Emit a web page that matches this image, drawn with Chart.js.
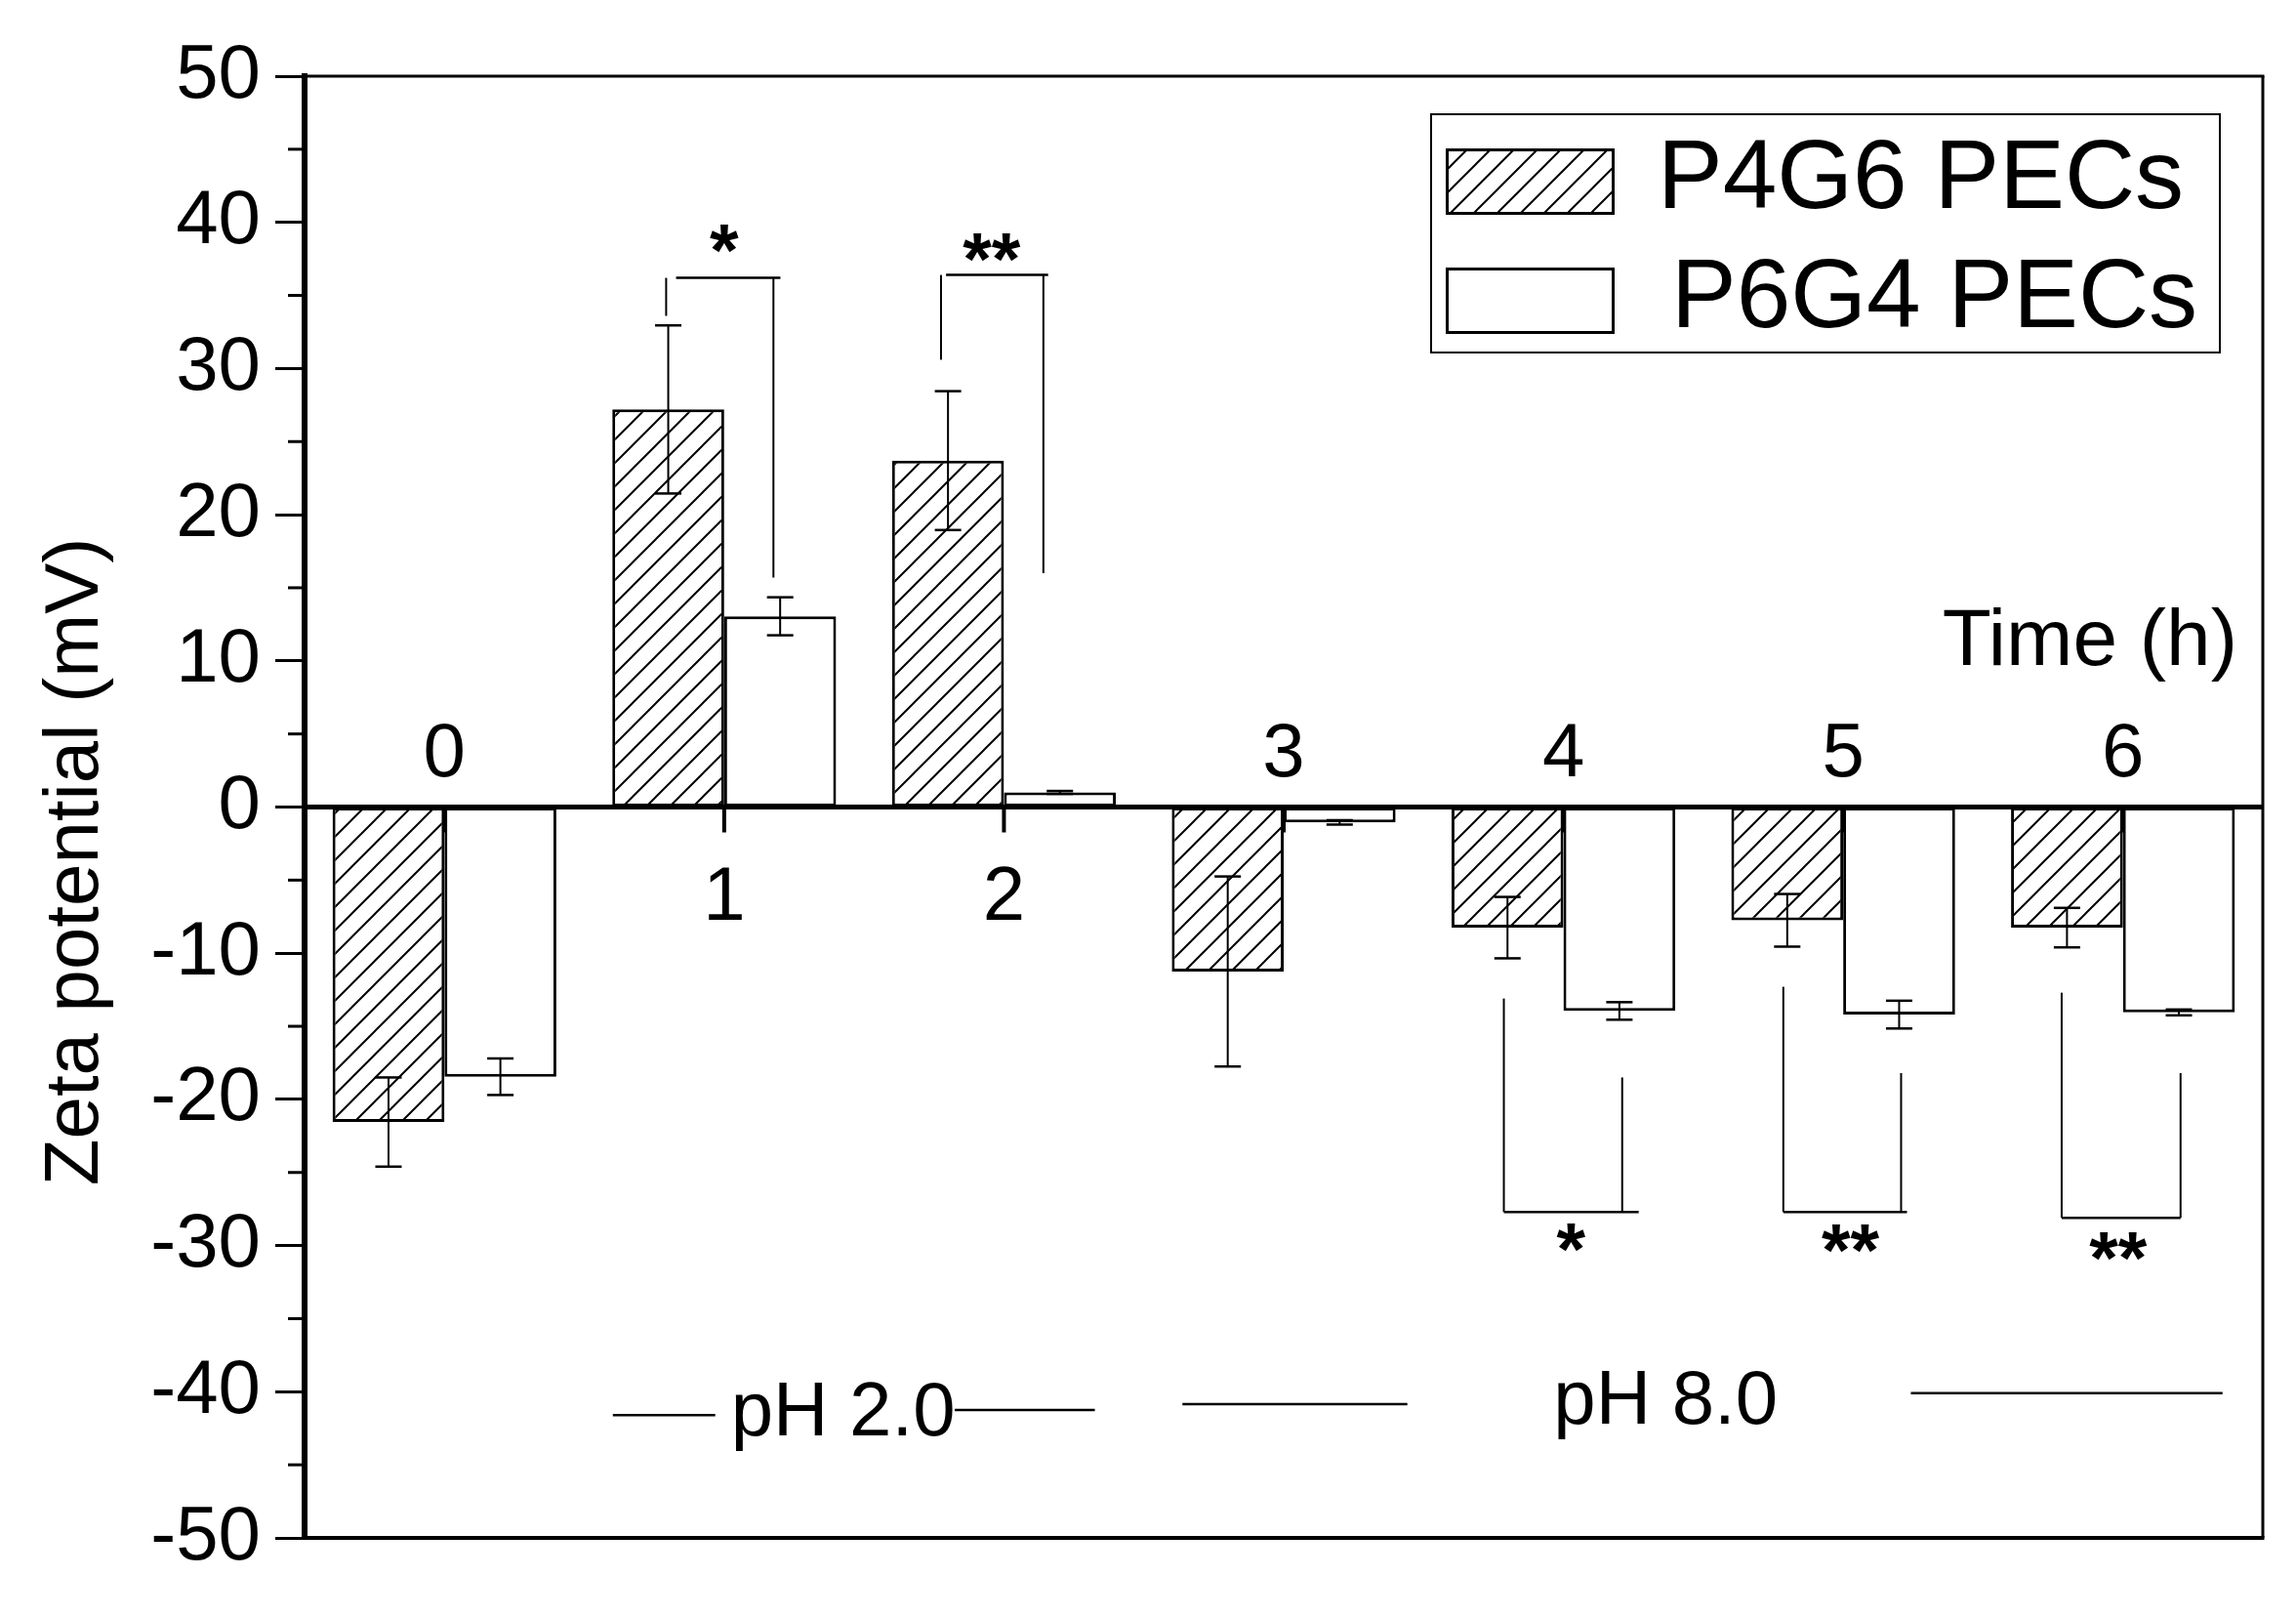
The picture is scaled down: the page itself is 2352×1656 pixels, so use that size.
<!DOCTYPE html>
<html><head><meta charset="utf-8">
<script src="https://cdn.jsdelivr.net/npm/chart.js@4/dist/chart.umd.min.js"></script>
<style>html,body{margin:0;padding:0;background:#fff;}canvas{display:block;}</style>
</head><body>
<canvas id="c" width="2352" height="1656"></canvas>
<script>
// ---------- data ----------
const categories = ['0', '1', '2', '3', '4', '5', '6'];
const seriesNames = ['P4G6 PECs', 'P6G4 PECs'];
const p4g6 = [-21.55, 27.2, 23.7, -11.25, -8.25, -7.75, -8.25];
const p4g6Err = [3.05, 5.75, 4.75, 6.5, 2.1, 1.8, 1.35];
const p6g4 = [-18.45, 13.05, 1.0, -1.05, -13.95, -14.2, -14.05];
const p6g4Err = [1.25, 1.3, 0.1, 0.15, 0.6, 0.95, 0.2];
const yMin = -50, yMax = 50, yStep = 10;
const xTitle = 'Time (h)';
const yTitle = 'Zeta potential (mV)';
// significance brackets (x in category units, y in mV)
const brackets = [
  { mark: '*',  leftX: 0.7925, leftEnd: 33.6,  hx1: 0.828, hx2: 1.201, barY: 36.2,  rightX: 1.176, rightEnd: 15.7,  markX: 1.0,   markY: 38.9 },
  { mark: '**', leftX: 1.775,  leftEnd: 30.6,  hx1: 1.793, hx2: 2.158, barY: 36.4,  rightX: 2.141, rightEnd: 16.0,  markX: 1.956, markY: 38.3 },
  { mark: '*',  leftX: 3.787,  leftEnd: -13.1, hx1: 3.787, hx2: 4.269, barY: -27.7, rightX: 4.210, rightEnd: -18.5, markX: 4.027, markY: -29.4 },
  { mark: '**', leftX: 4.786,  leftEnd: -12.3, hx1: 4.786, hx2: 5.228, barY: -27.7, rightX: 5.207, rightEnd: -18.2, markX: 5.026, markY: -29.5 },
  { mark: '**', leftX: 5.781,  leftEnd: -12.7, hx1: 5.781, hx2: 6.206, barY: -28.1, rightX: 6.206, rightEnd: -18.2, markX: 5.983, markY: -30.0 }
];
// pH segment lines [x1, x2, y] and labels
const phLines = [[0.602, 0.968, -41.6], [1.824, 2.325, -41.25], [2.638, 3.442, -40.85], [5.242, 6.356, -40.1]];
const phLabels = ['pH 2.0', 'pH 8.0'];
const phLabelX = [1.425, 4.365];
const phLabelY = [-43.0, -42.2];

// ---------- style ----------
const FONT = '"Liberation Sans", Arial, Helvetica, sans-serif';
Chart.defaults.font.family = FONT;
Chart.defaults.color = '#000';

const canvas = document.getElementById('c');
const mainCtx = canvas.getContext('2d');
function makeHatch() {
  const s = 24;
  const t = document.createElement('canvas');
  t.width = s; t.height = s;
  const g = t.getContext('2d');
  g.fillStyle = '#fff'; g.fillRect(0, 0, s, s);
  g.strokeStyle = '#000'; g.lineWidth = 2;
  g.beginPath();
  g.moveTo(-2, s + 2); g.lineTo(s + 2, -2);
  g.moveTo(-s / 2 - 2, s / 2 + 2); g.lineTo(s / 2 + 2, -s / 2 - 2);
  g.moveTo(s / 2 - 2, s * 1.5 + 2); g.lineTo(s * 1.5 + 2, s / 2 - 2);
  g.stroke();
  return mainCtx.createPattern(t, 'repeat');
}
const hatch = makeHatch();

function line(ctx, x1, y1, x2, y2, w) {
  ctx.save();
  ctx.strokeStyle = '#000'; ctx.lineWidth = w; ctx.lineCap = 'butt';
  ctx.beginPath(); ctx.moveTo(x1, y1); ctx.lineTo(x2, y2); ctx.stroke();
  ctx.restore();
}

const decorations = {
  id: 'decorations',
  afterDatasetsDraw(chart) {
    const ctx = chart.ctx, ys = chart.scales.y, xs = chart.scales.x, ca = chart.chartArea;
    // error bars
    chart.data.datasets.forEach((ds, di) => {
      const meta = chart.getDatasetMeta(di);
      meta.data.forEach((bar, i) => {
        const v = ds.data[i], e = ds.errors[i];
        const yt = ys.getPixelForValue(v + e), yb = ys.getPixelForValue(v - e);
        const x = bar.x;
        line(ctx, x, yt, x, yb, 2);
        line(ctx, x - 13.5, yt, x + 13.5, yt, 2.5);
        line(ctx, x - 13.5, yb, x + 13.5, yb, 2.5);
      });
    });
    // zero line
    const y0 = ys.getPixelForValue(0);
    line(ctx, ca.left, y0, ca.right, y0, 5);
    // x tick marks
    categories.forEach((c, i) => {
      const x = xs.getPixelForValue(i);
      line(ctx, x, y0, x, y0 + 26, 4);
    });
    // y minor ticks
    for (let v = yMin + yStep / 2; v < yMax; v += yStep) {
      const y = ys.getPixelForValue(v);
      line(ctx, ca.left - 17, y, ca.left, y, 3);
    }
  },
  afterDraw(chart) {
    const ctx = chart.ctx, ys = chart.scales.y, xs = chart.scales.x, ca = chart.chartArea;
    const y0 = ys.getPixelForValue(0);
    // frame
    line(ctx, ca.left, ca.top, ca.right + 1.5, ca.top, 3);
    line(ctx, ca.right, ca.top, ca.right, ca.bottom, 3);
    line(ctx, ca.left - 3, ca.bottom, ca.right + 1.5, ca.bottom, 4);

    ctx.save();
    ctx.fillStyle = '#000';
    // category labels
    ctx.font = '78px ' + FONT;
    ctx.textAlign = 'center';
    ctx.textBaseline = 'alphabetic';
    categories.forEach((c, i) => {
      const x = xs.getPixelForValue(i);
      const positive = Math.max(p4g6[i], p6g4[i]) > 0;
      ctx.fillText(c, x, positive ? y0 + 115 : y0 - 32);
    });
    // x title
    ctx.font = '82px ' + FONT;
    ctx.textAlign = 'right';
    ctx.fillText(xTitle, ca.right - 26, y0 - 146);
    // y title
    ctx.save();
    ctx.font = '78px ' + FONT;
    ctx.textAlign = 'center';
    ctx.textBaseline = 'middle';
    ctx.translate(78, (ca.top + ca.bottom) / 2 + 56);
    ctx.rotate(-Math.PI / 2);
    ctx.fillText(yTitle, 0, 0);
    ctx.restore();
    // brackets
    brackets.forEach(b => {
      const lx = xs.getPixelForValue(b.leftX), rx = xs.getPixelForValue(b.rightX);
      const by = ys.getPixelForValue(b.barY);
      line(ctx, lx, by, lx, ys.getPixelForValue(b.leftEnd), 2);
      line(ctx, rx, by, rx, ys.getPixelForValue(b.rightEnd), 2);
      line(ctx, xs.getPixelForValue(b.hx1), by, xs.getPixelForValue(b.hx2), by, 2.5);
      ctx.font = 'bold 76px ' + FONT;
      ctx.textAlign = 'center';
      ctx.textBaseline = 'alphabetic';
      ctx.fillText(b.mark, xs.getPixelForValue(b.markX), ys.getPixelForValue(b.markY) + 0.5 * 76);
    });
    // pH lines and labels
    phLines.forEach(p => {
      const y = ys.getPixelForValue(p[2]);
      line(ctx, xs.getPixelForValue(p[0]), y, xs.getPixelForValue(p[1]), y, 2.5);
    });
    ctx.font = '78px ' + FONT;
    ctx.textAlign = 'center';
    ctx.textBaseline = 'alphabetic';
    phLabels.forEach((t, i) => {
      ctx.fillText(t, xs.getPixelForValue(phLabelX[i]), ys.getPixelForValue(phLabelY[i]));
    });
    // legend
    const lgRight = ca.right - 44, lgTop = ca.top + 39;
    const lgW = 808, lgH = 244;
    const lgLeft = lgRight - lgW;
    ctx.strokeStyle = '#000'; ctx.lineWidth = 2;
    ctx.strokeRect(lgLeft, lgTop, lgW, lgH);
    ctx.font = '100px ' + FONT;
    ctx.textAlign = 'left';
    chart.data.datasets.forEach((ds, di) => {
      const sx = lgLeft + 15, sy = lgTop + 35 + di * 122, sw = 173, sh = 68;
      ctx.fillStyle = ds.backgroundColor;
      ctx.fillRect(sx, sy, sw, sh);
      ctx.strokeStyle = '#000'; ctx.lineWidth = 3;
      ctx.strokeRect(sx + 1.5, sy + 1.5, sw - 3, sh - 3);
      ctx.fillStyle = '#000';
      ctx.fillText(ds.label, lgLeft + 232 + di * 14, sy + 61);
    });
    ctx.restore();
  }
};

new Chart(canvas, {
  type: 'bar',
  data: {
    labels: categories,
    datasets: [
      { label: seriesNames[0], data: p4g6, errors: p4g6Err, backgroundColor: hatch, borderColor: '#000', borderWidth: 3, borderSkipped: false },
      { label: seriesNames[1], data: p6g4, errors: p6g4Err, backgroundColor: '#fff', borderColor: '#000', borderWidth: 3, borderSkipped: false }
    ]
  },
  options: {
    responsive: false,
    animation: false,
    devicePixelRatio: 1,
    layout: { padding: { left: 0, right: 34, top: 78, bottom: 81 } },
    datasets: { bar: { categoryPercentage: 0.8, barPercentage: 1.0 } },
    plugins: { legend: { display: false }, tooltip: { enabled: false } },
    scales: {
      x: { type: 'category', display: false, offset: true },
      y: {
        min: yMin, max: yMax,
        ticks: { stepSize: yStep, font: { size: 78 }, color: '#000', padding: 15 },
        grid: { drawOnChartArea: false, drawTicks: true, tickLength: 30, tickWidth: 3, tickColor: '#000' },
        border: { display: true, width: 6, color: '#000' },
        afterFit(scale) { scale.width = 312; }
      }
    }
  },
  plugins: [decorations]
});
</script>
</body></html>
